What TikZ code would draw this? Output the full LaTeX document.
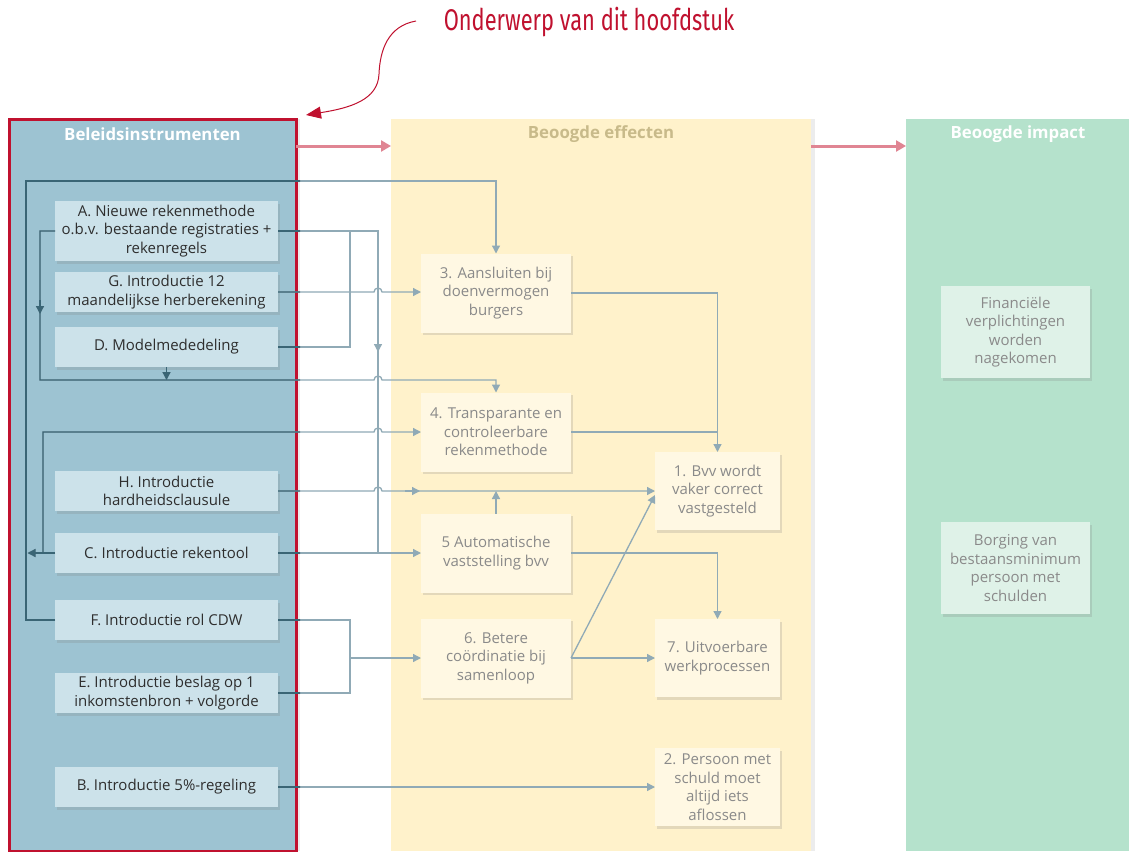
\documentclass[tikz,border=0pt]{standalone}
\usepackage{fontspec}
\setmainfont{Open Sans}
\newfontfamily\annfont{Fira Sans}
\usetikzlibrary{arrows.meta,shadows}
\definecolor{panelblue}{HTML}{9DC3D2}
\definecolor{boxblue}{HTML}{CCE2EA}
\definecolor{panelyellow}{HTML}{FFF2CB}
\definecolor{boxyellow}{HTML}{FFF8E3}
\definecolor{panelgreen}{HTML}{B5E2CC}
\definecolor{boxgreen}{HTML}{DFF2E8}
\definecolor{accent}{HTML}{C0112F}
\definecolor{pinkarr}{HTML}{E08593}
\definecolor{connlight}{HTML}{90AAB6}
\definecolor{conndark}{HTML}{3A6575}
\definecolor{txtgray}{HTML}{8A8A8A}
\definecolor{txtdark}{HTML}{2E2E2E}
\definecolor{tancol}{HTML}{C8BA8A}
\newcommand\connectorset[1]{%
\begin{scope}[#1, line width=1.3pt]
  \draw[tip] (F.west) -| (26,181) -| (b3.north);
  \draw[tip] (A.west) -| (40,380) -- (374,380) arc[start angle=180,end angle=0,radius=4pt] -- (496,380) -- (b4.north);
  \draw[tip] (40,300) -- (40,314);
  \draw[tip] (D.south) -- (166.5,380);
  \draw (D.east) -| (350,231);
  \draw (A.east) -| (378,553);
  \draw[tip] (378,338) -- (378,352);
  \draw[tip] (G.east) -- (374,292) arc[start angle=180,end angle=0,radius=4pt] -- (b3.west |- G.east);
  \draw[tip] (C.west) -- (27.5,553);
  \draw[tip] (43,553) |- (374,432) arc[start angle=180,end angle=0,radius=4pt] -- (b4.west);
  \draw[tip] (H.east) -- (374,491) arc[start angle=180,end angle=0,radius=4pt] -- (b1.west |- H.east);
  \draw[tip] (405,491) -- (420,491);
  \draw[tip] (b5.north) -- (496,491);
  \draw[tip] (C.east) -- (b5.west);
  \draw (F.east) -| (350,693) -- (E.east);
  \draw[tip] (350,658) -- (b6.west);
  \draw[tip] (B.east) -- (b2.west);
  \draw[tip] (b3.east) -| (b1.north);
  \draw (b4.east) -- (717.5,432);
  \draw[tip] (b5.east) -| (b7.north);
  \draw[tip] (b6.east) -- (b7.west);
  \draw[tip] (b6.east) -- ([yshift=-4pt]b1.west);
\end{scope}}
\begin{document}
\begin{tikzpicture}[x=1pt,y=-1pt,
  font=\fontsize{15}{18.5}\selectfont,
  tip/.style={-{Triangle[length=8pt,width=8pt]}},
  boxshadow/.style={drop shadow={shadow xshift=2pt,shadow yshift=-2.5pt,opacity=0.22}},
  panelshadow/.style={drop shadow={shadow xshift=4pt,shadow yshift=0pt,opacity=0.15}},
  panel/.style={minimum height=732pt, inner sep=0pt, outer sep=0pt, panelshadow},
  instr/.style={fill=boxblue, minimum width=223pt, align=center, text=txtdark, inner sep=0pt, outer sep=0pt, boxshadow},
  effect/.style={fill=boxyellow, minimum width=150pt, minimum height=79pt, align=center, text=txtgray, inner sep=0pt, outer sep=0pt, boxshadow},
  result/.style={fill=boxyellow, minimum width=125pt, minimum height=78pt, align=center, text=txtgray, inner sep=0pt, outer sep=0pt, boxshadow},
  impact/.style={fill=boxgreen, minimum width=149pt, minimum height=92pt, align=center, text=txtgray, inner sep=0pt, outer sep=0pt, boxshadow},
  ptitle/.style={font=\fontsize{16.8}{19}\selectfont\bfseries}
]
\useasboundingbox (0,0) rectangle (1129,851);
\fill[white] (0,0) rectangle (1129,851);

% panels
\node[panel, fill=panelblue, draw=accent, line width=3pt, minimum width=287pt] (p1) at (152.5,485) {};
\node[panel, fill=panelyellow, minimum width=420pt] (p2) at (601,485) {};
\node[panel, fill=panelgreen, minimum width=240pt] (p3) at (1026,485) {};

\node[ptitle, text=white] (t1) at (152.5,134) {Beleidsinstrumenten};
\node[ptitle, text=tancol] (t2) at (601,134) {Beoogde effecten};
\node[ptitle, text=white] (t3) at (1018,134) {Beoogde impact};

\coordinate (ya) at (0,146);
\draw[pinkarr, line width=3pt, -{Triangle[length=10pt,width=11pt]}] (p1.east |- ya) -- (p2.west |- ya);
\draw[pinkarr, line width=3pt, -{Triangle[length=10pt,width=11pt]}] (p2.east |- ya) -- (p3.west |- ya);

% instruments
\node[instr, minimum height=60pt] (A) at (166.5,231) {A. Nieuwe rekenmethode\\o.b.v. bestaande registraties +\\rekenregels};
\node[instr, minimum height=40pt] (G) at (166.5,292) {G. Introductie 12\\maandelijkse herberekening};
\node[instr, minimum height=40pt] (D) at (166.5,347) {D. Modelmededeling};
\node[instr, minimum height=40pt] (H) at (166.5,491) {H. Introductie\\hardheidsclausule};
\node[instr, minimum height=40pt] (C) at (166.5,553) {C. Introductie rekentool};
\node[instr, minimum height=40pt] (F) at (166.5,620) {F. Introductie rol CDW};
\node[instr, minimum height=40pt] (E) at (166.5,693) {E. Introductie beslag op 1\\inkomstenbron + volgorde};
\node[instr, minimum height=40pt] (B) at (166.5,787) {B. Introductie 5\%-regeling};

% effects
\node[effect] (b3) at (496,293) {3. Aansluiten bij\\doenvermogen\\burgers};
\node[effect] (b4) at (496,432) {4. Transparante en\\controleerbare\\rekenmethode};
\node[effect] (b5) at (496,553) {5 Automatische\\vaststelling bvv};
\node[effect] (b6) at (496,658) {6. Betere\\coördinatie bij\\samenloop};
\node[result] (b1) at (717.5,491) {1. Bvv wordt\\vaker correct\\vastgesteld};
\node[result] (b7) at (717.5,658) {7. Uitvoerbare\\werkprocessen};
\node[result] (b2) at (717.5,787) {2. Persoon met\\schuld moet\\altijd iets\\aflossen};

% impact
\node[impact] (i1) at (1015.5,332) {Financiële\\verplichtingen\\worden\\nagekomen};
\node[impact] (i2) at (1015.5,568) {Borging van\\bestaansminimum\\persoon met\\schulden};

% connectors: light everywhere, dark inside the instruments panel
\connectorset{connlight}
\begin{scope}
  \clip (9,119) rectangle (300,851);
  \connectorset{conndark}
\end{scope}

% annotation
\node[text=accent, font=\annfont\fontsize{23}{26}\selectfont] (ann) at (589,22) {\scalebox{0.95}[1.3]{Onderwerp van dit hoofdstuk}};
\coordinate (annstart) at (416,21);
\coordinate (annend) at (306,115);
\draw[accent, line width=1pt, -{Triangle[length=15pt,width=12pt]}] (annstart) .. controls (388,26) and (380,50) .. (379,74) .. controls (378,100) and (350,108) .. (annend);
\end{tikzpicture}
\end{document}
